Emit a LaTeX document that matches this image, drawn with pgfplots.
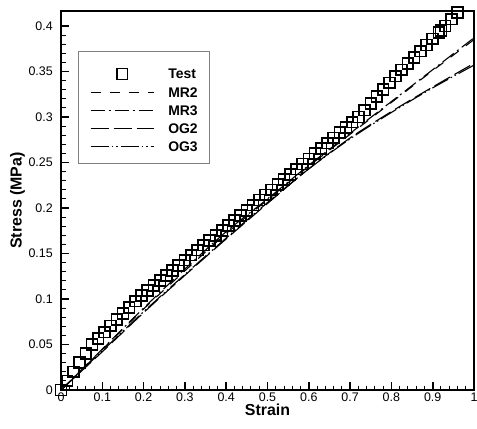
\documentclass[border=0pt]{standalone}
\usepackage{pgfplots}
\pgfplotsset{compat=1.18}
\usepackage{fontspec}
\setmainfont{Liberation Sans}
\begin{document}
\begin{tikzpicture}
\begin{axis}[
  scale only axis, width=413bp, height=379bp,
  xmin=0, xmax=1, ymin=0, ymax=0.4165,
  xtick={0,0.1,0.2,0.3,0.4,0.5,0.6,0.7,0.8,0.9,1},
  xticklabels={0,0.1,0.2,0.3,0.4,0.5,0.6,0.7,0.8,0.9,1},
  ytick={0,0.05,0.1,0.15,0.2,0.25,0.3,0.35,0.4},
  yticklabels={0,0.05,0.1,0.15,0.2,0.25,0.3,0.35,0.4},
  minor x tick num=4, minor y tick num=4,
  tick pos=left, tick align=inside,
  major tick length=8bp, minor tick length=4.5bp,
  axis line style={line width=1.8bp},
  every major tick/.style={black, line width=1.6bp},
  every minor tick/.style={black, line width=1bp},
  ticklabel style={font=\fontsize{12.5}{14}\selectfont, inner sep=0pt},
  xticklabel style={yshift=-3bp},
  yticklabel style={xshift=-8bp},
  xlabel={Strain}, ylabel={Stress (MPa)},
  every axis x label/.style={at={(axis description cs:0.5,-0.037)}, anchor=north, inner sep=0pt, font=\bfseries\fontsize{16}{18}\selectfont},
  every axis y label/.style={at={(axis description cs:-0.087,0.5)}, rotate=90, anchor=south, inner sep=0pt, font=\bfseries\fontsize{16}{18}\selectfont},
  legend image code/.code={\draw[mark repeat=2,mark phase=2,#1] plot coordinates {(0bp,0bp) (31.5bp,0bp) (63bp,0bp)};},
  legend style={draw=none, fill=none, inner sep=0pt, at={(axis description cs:0.0702,0.7388)}, anchor=west,
    column sep=14bp, row sep=8bp,
    nodes={inner sep=0pt, text height=10bp, text depth=0pt, font=\bfseries\fontsize{14}{16}\selectfont}},
  legend cell align=left,
]
\addplot[only marks, mark=square, mark size=5.4bp, mark options={line width=1.7bp, fill=none}] coordinates {
(0.000,0.0000) (0.015,0.0100) (0.030,0.0200) (0.045,0.0300) (0.060,0.0400) (0.075,0.0500)
(0.090,0.0568) (0.105,0.0636) (0.120,0.0705) (0.135,0.0773) (0.150,0.0841) (0.165,0.0909)
(0.180,0.0977) (0.195,0.1037) (0.210,0.1093) (0.225,0.1148) (0.240,0.1204) (0.255,0.1259)
(0.270,0.1315) (0.285,0.1370) (0.300,0.1426) (0.315,0.1481) (0.330,0.1536) (0.345,0.1591)
(0.360,0.1645) (0.375,0.1700) (0.390,0.1755) (0.405,0.1809) (0.420,0.1864) (0.435,0.1919)
(0.450,0.1975) (0.465,0.2031) (0.480,0.2088) (0.495,0.2144) (0.510,0.2200) (0.525,0.2256)
(0.540,0.2313) (0.555,0.2369) (0.570,0.2426) (0.585,0.2484) (0.600,0.2541) (0.615,0.2599)
(0.630,0.2656) (0.645,0.2713) (0.660,0.2771) (0.675,0.2828) (0.690,0.2885) (0.705,0.2943)
(0.720,0.3000) (0.735,0.3075) (0.750,0.3150) (0.765,0.3225) (0.780,0.3300) (0.795,0.3375)
(0.810,0.3450) (0.825,0.3518) (0.840,0.3586) (0.855,0.3655) (0.870,0.3723) (0.885,0.3791)
(0.900,0.3859) (0.915,0.3927) (0.920,0.3950) (0.930,0.4000) (0.945,0.4075) (0.960,0.4150)
};
\addlegendentry{Test}
\addplot[black, line width=1.1bp, dash pattern=on 10bp off 9bp, smooth] coordinates {
(0,0) (0.1,0.0445) (0.2,0.089) (0.3,0.131) (0.4,0.172) (0.5,0.209) (0.6,0.246) (0.7,0.281) (0.8,0.316) (0.9,0.351) (1.0,0.385)
};
\addlegendentry{MR2}
\addplot[black, line width=1.1bp, dash pattern=on 14bp off 4bp on 2bp off 4bp, smooth] coordinates {
(0,0) (0.1,0.045) (0.2,0.09) (0.3,0.133) (0.4,0.174) (0.5,0.21) (0.6,0.247) (0.7,0.282) (0.8,0.317) (0.9,0.352) (1.0,0.387)
};
\addlegendentry{MR3}
\addplot[black, line width=1.1bp, dash pattern=on 18bp off 5bp, smooth] coordinates {
(0,0) (0.1,0.042) (0.2,0.085) (0.3,0.126) (0.4,0.166) (0.5,0.205) (0.6,0.243) (0.7,0.277) (0.8,0.306) (0.9,0.333) (1.0,0.359)
};
\addlegendentry{OG2}
\addplot[black, line width=1.1bp, dash pattern=on 18bp off 3bp on 1.5bp off 3bp on 1.5bp off 3bp, smooth] coordinates {
(0,0) (0.1,0.043) (0.2,0.086) (0.3,0.127) (0.4,0.167) (0.5,0.206) (0.6,0.243) (0.7,0.276) (0.8,0.305) (0.9,0.332) (1.0,0.357)
};
\addlegendentry{OG3}
\draw[gray, line width=0.8bp] (rel axis cs:0.0412,0.8945) rectangle (rel axis cs:0.3584,0.5989);
\end{axis}
\pgfresetboundingbox
\useasboundingbox ([xshift=-61bp,yshift=-39bp]current axis.south west) rectangle ([xshift=3bp,yshift=11bp]current axis.north east);
\end{tikzpicture}
\end{document}
